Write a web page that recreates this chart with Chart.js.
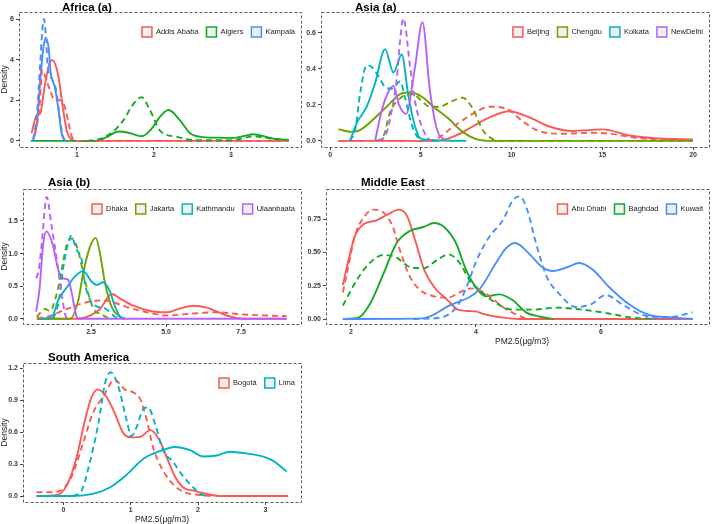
<!DOCTYPE html>
<html>
<head>
<meta charset="utf-8">
<script src="https://cdn.jsdelivr.net/npm/chart.js@4.4.1/dist/chart.umd.min.js"></script>
<style>
  html, body { margin: 0; padding: 0; background: #fff; }
  #wrap { position: relative; width: 712px; height: 524px; }
  #wrap canvas { position: absolute; left: 0; top: 0; }
</style>
</head>
<body>
<div id="wrap"></div>
<script>
// ---- Africa (a)
const africaCities = ['Addis Ababa', 'Algiers', 'Kampala'];
const africaXTicks = [1, 2, 3];
const africaYTicks = [0, 2, 4, 6];
const addisSolid = [[0.41,0.38],[0.48,1.28],[0.52,1.33],[0.58,2.67],[0.65,3.9],[0.68,3.97],[0.76,3.16],[0.82,1.54],[0.87,0.48],[0.93,0.07],[1.0,0],[3.75,0]];
const addisDashed = [[0.45,0.3],[0.51,1.5],[0.55,3.5],[0.6,3.0],[0.65,2.5],[0.71,2.0],[0.79,2.0],[0.84,1.69],[0.89,0.9],[0.93,0.25],[0.97,0],[3.75,0]];
const algiersSolid = [[0.4,0],[1.26,0],[1.39,0.2],[1.54,0.46],[1.69,0.38],[1.84,0.23],[1.97,0.6],[2.08,1.2],[2.19,1.52],[2.34,1.0],[2.47,0.38],[2.6,0.2],[2.81,0.16],[3.03,0.15],[3.18,0.25],[3.29,0.33],[3.46,0.2],[3.6,0.08],[3.75,0.05]];
const algiersDashed = [[1.13,0],[1.3,0.1],[1.47,0.46],[1.6,1.0],[1.73,1.8],[1.84,2.15],[1.95,1.5],[2.08,0.5],[2.16,0.3],[2.3,0.2],[2.42,0.08],[2.6,0.03],[3.0,0.03],[3.3,0.22],[3.5,0.12],[3.75,0.05]];
const kampalaSolid = [[0.43,0],[0.48,0.87],[0.52,2.84],[0.56,4.48],[0.59,5.05],[0.63,4.64],[0.66,3.33],[0.71,2.67],[0.76,1.54],[0.8,0.39],[0.84,0]];
const kampalaDashed = [[0.43,0.05],[0.48,1.3],[0.52,3.66],[0.55,5.46],[0.57,6.0],[0.6,4.97],[0.62,3.66],[0.67,3.08],[0.73,2.5],[0.78,1.03],[0.82,0.2],[0.86,0]];

// ---- Asia (a)
const asiaACities = ['Beijing', 'Chengdu', 'Kolkata', 'NewDelhi'];
const asiaAXTicks = [0, 5, 10, 15, 20];
const asiaAYTicks = [0, 0.2, 0.4, 0.6];
const beijingSolid = [[0.46,0],[5.84,0],[6.94,0.03],[7.86,0.08],[8.78,0.13],[9.88,0.165],[10.98,0.13],[12.08,0.08],[13.37,0.055],[15.02,0.064],[16.5,0.03],[17.9,0.015],[20,0.008]];
const beijingDashed = [[0.46,0],[5.47,0],[6.94,0.09],[7.86,0.15],[8.78,0.19],[9.7,0.18],[10.6,0.11],[11.5,0.055],[12.8,0.04],[14.3,0.045],[15.4,0.04],[17.0,0.015],[20,0.005]];
const chengduSolid = [[0.46,0.065],[1.19,0.05],[1.65,0.06],[2.39,0.12],[3.12,0.19],[3.86,0.26],[4.41,0.27],[5.14,0.24],[5.69,0.19],[6.57,0.12],[7.3,0.05],[8.04,0.01],[9,0],[20,0]];
const chengduDashed = [[2.5,0],[2.8,0.01],[3.0,0.04],[3.27,0.15],[3.9,0.24],[4.58,0.26],[4.96,0.23],[5.5,0.19],[6.02,0.19],[6.7,0.22],[7.3,0.24],[7.86,0.18],[8.41,0.06],[8.97,0.01],[9.5,0],[20,0]];
const kolkataSolid = [[1.1,0],[1.47,0.1],[2.02,0.19],[2.48,0.32],[3.03,0.51],[3.49,0.38],[3.95,0.48],[4.3,0.26],[4.68,0.08],[5.05,0.01],[7.5,0]];
const kolkataDashed = [[1.1,0],[1.4,0.07],[1.65,0.26],[2.02,0.42],[2.3,0.41],[2.66,0.36],[3.03,0.3],[3.4,0.29],[3.86,0.33],[4.13,0.24],[4.5,0.09],[4.96,0.01],[6,0]];
const newDelhiSolid = [[2.48,0],[2.85,0.17],[3.2,0.27],[3.49,0.305],[3.8,0.2],[4.19,0.15],[4.68,0.41],[5.09,0.66],[5.5,0.28],[5.9,0.06],[6.4,0]];
const newDelhiDashed = [[2.7,0],[3.1,0.04],[3.4,0.17],[3.67,0.34],[3.85,0.55],[4.04,0.68],[4.41,0.41],[4.68,0.22],[5.05,0.08],[5.5,0]];

// ---- Asia (b)
const asiaBCities = ['Dhaka', 'Jakarta', 'Kathmandu', 'Ulaanbaata'];
const asiaBXTicks = [2.5, 5.0, 7.5];
const asiaBYTicks = [0, 0.5, 1.0, 1.5];
const dhakaSolid = [[0.7,0],[2.02,0],[2.47,0.05],[2.8,0.15],[3.19,0.38],[3.47,0.31],[3.91,0.2],[4.47,0.12],[5.02,0.1],[5.47,0.16],[5.91,0.2],[6.36,0.17],[7.02,0.05],[7.58,0],[9.02,0]];
const dhakaDashed = [[0.7,0.01],[1.02,0.03],[1.69,0.15],[2.24,0.24],[2.8,0.28],[3.1,0.27],[3.69,0.18],[4.47,0.09],[5.02,0.05],[5.91,0.08],[6.69,0.1],[7.47,0.07],[8.36,0.05],[9.02,0.04]];
const jakartaSolid = [[0.7,0],[1.8,0],[2.08,0.29],[2.24,0.7],[2.47,1.11],[2.66,1.24],[2.8,1.0],[2.97,0.54],[3.19,0.18],[3.41,0.05],[3.63,0]];
const jakartaDashed = [[0.69,0.03],[0.97,0.15],[1.13,0.12],[1.36,0.39],[1.52,0.75],[1.69,1.13],[1.86,1.23],[2.08,1.03],[2.24,0.7],[2.47,0.29],[2.63,0.12],[2.8,0.08],[3.0,0.03],[3.2,0]];
const kathmanduSolid = [[0.69,0],[1.19,0.02],[1.41,0.29],[1.69,0.48],[1.97,0.65],[2.24,0.73],[2.52,0.57],[2.69,0.52],[2.91,0.56],[3.13,0.42],[3.3,0.19],[3.47,0.03],[3.63,0]];
const kathmanduDashed = [[1.24,0],[1.41,0.23],[1.58,0.8],[1.75,1.18],[1.83,1.27],[2.02,1.06],[2.19,0.9],[2.3,0.54],[2.47,0.29],[2.69,0.19],[2.97,0.16],[3.13,0.1],[3.3,0.03],[3.45,0]];
const ulaanSolid = [[0.67,0.11],[0.78,0.44],[0.91,1.16],[1.02,1.34],[1.24,1.11],[1.41,0.75],[1.58,0.62],[1.74,0.6],[1.86,0.39],[2.0,0.06],[2.08,0],[9.02,0]];
const ulaanDashed = [[0.67,0.62],[0.76,0.75],[0.86,1.16],[1.02,1.87],[1.19,1.41],[1.36,0.9],[1.52,0.39],[1.63,0.08],[1.7,0]];

// ---- Middle East
const meCities = ['Abu Dhabi', 'Baghdad', 'Kuwait'];
const meXTicks = [2, 4, 6];
const meYTicks = [0, 0.25, 0.5, 0.75];
const abuSolid = [[1.87,0.255],[1.96,0.44],[2.06,0.62],[2.2,0.71],[2.41,0.74],[2.57,0.78],[2.77,0.82],[2.9,0.77],[3.04,0.57],[3.17,0.37],[3.33,0.24],[3.55,0.14],[3.71,0.07],[3.87,0.06],[4.01,0.055],[4.1,0.04],[4.43,0.01],[4.7,0],[7.47,0]];
const abuDashed = [[1.87,0.2],[1.96,0.4],[2.06,0.62],[2.2,0.76],[2.36,0.82],[2.54,0.79],[2.67,0.69],[2.78,0.52],[2.94,0.32],[3.1,0.22],[3.33,0.17],[3.55,0.16],[3.74,0.2],[3.92,0.23],[4.16,0.19],[4.43,0.09],[4.64,0.035],[4.85,0],[5.2,0]];
const baghdadSolid = [[1.87,0],[2.12,0.01],[2.3,0.11],[2.52,0.34],[2.73,0.57],[2.94,0.66],[3.16,0.69],[3.33,0.72],[3.49,0.69],[3.68,0.57],[3.84,0.37],[4.01,0.23],[4.16,0.17],[4.37,0.185],[4.59,0.14],[4.8,0.05],[5.0,0.02],[5.24,0]];
const baghdadDashed = [[1.87,0.1],[2.09,0.29],[2.3,0.42],[2.52,0.48],[2.73,0.46],[2.94,0.39],[3.16,0.38],[3.37,0.44],[3.56,0.485],[3.74,0.42],[3.9,0.29],[4.1,0.2],[4.32,0.12],[4.59,0.07],[4.91,0.07],[5.28,0.085],[5.7,0.07],[6.08,0.045],[6.5,0.01],[6.88,0]];
const kuwaitSolid = [[1.87,0],[3.15,0.005],[3.57,0.1],[4.05,0.22],[4.32,0.42],[4.48,0.53],[4.63,0.57],[4.85,0.49],[5.06,0.39],[5.23,0.36],[5.47,0.39],[5.65,0.42],[5.87,0.37],[6.13,0.24],[6.45,0.11],[6.77,0.03],[7.04,0.015],[7.47,0]];
const kuwaitDashed = [[3.0,0],[3.42,0.01],[3.69,0.09],[3.85,0.24],[4.01,0.44],[4.22,0.62],[4.43,0.74],[4.59,0.89],[4.7,0.92],[4.82,0.82],[4.96,0.57],[5.13,0.32],[5.33,0.19],[5.6,0.09],[5.84,0.11],[6.08,0.18],[6.34,0.11],[6.61,0.04],[6.93,0.005],[7.2,0.02],[7.47,0.05]];

// ---- South America
const saCities = ['Bogotá', 'Lima'];
const saXTicks = [0, 1, 2, 3];
const saYTicks = [0, 0.3, 0.6, 0.9, 1.2];
const bogotaSolid = [[-0.4,0],[-0.1,0.01],[0.05,0.1],[0.2,0.37],[0.32,0.71],[0.42,0.93],[0.51,1.0],[0.64,0.93],[0.76,0.78],[0.89,0.59],[1.01,0.55],[1.16,0.56],[1.29,0.62],[1.43,0.52],[1.53,0.37],[1.66,0.18],[1.78,0.08],[1.93,0.05],[2.13,0.02],[2.33,0],[3.34,0]];
const bogotaDashed = [[-0.4,0.035],[-0.15,0.035],[0.0,0.07],[0.12,0.18],[0.29,0.49],[0.44,0.78],[0.59,0.93],[0.76,1.09],[0.91,1.0],[1.04,0.97],[1.14,0.91],[1.24,0.71],[1.33,0.46],[1.48,0.24],[1.63,0.11],[1.78,0.04],[2.03,0.01],[2.23,0]];
const limaSolid = [[-0.4,0],[0.14,0],[0.44,0.02],[0.69,0.08],[0.94,0.2],[1.19,0.35],[1.43,0.42],[1.66,0.46],[1.88,0.43],[2.08,0.37],[2.28,0.38],[2.47,0.415],[2.72,0.4],[2.97,0.37],[3.12,0.33],[3.24,0.27],[3.32,0.23]];
const limaDashed = [[0.14,0],[0.27,0.05],[0.39,0.31],[0.52,0.68],[0.62,1.06],[0.7,1.16],[0.81,1.04],[0.94,0.71],[1.01,0.56],[1.09,0.65],[1.19,0.82],[1.26,0.83],[1.36,0.68],[1.48,0.43],[1.63,0.32],[1.76,0.2],[1.93,0.08],[2.03,0.02],[2.13,0]];

const RED = '#FA5A55', GREEN3 = '#14AA28', BLUE = '#4A8DFF';
const OLIVE = '#6EA300', CYAN = '#00B5BD', PURPLE = '#B760FF';

const FONT = "'Liberation Sans', Arial, sans-serif";
Chart.defaults.font.family = FONT;

const XH = 11;

const decor = {
  id: 'decor',
  afterDraw(chart, args, o) {
    const { ctx, chartArea: a } = chart;
    ctx.save();
    ctx.strokeStyle = '#5a5a5a';
    ctx.lineWidth = 1;
    ctx.setLineDash([3, 2]);
    ctx.strokeRect(a.left + 0.5, a.top + 0.5, a.right - a.left, a.bottom - a.top);
    ctx.setLineDash([]);

    // legend, right aligned inside the panel
    ctx.font = '7.5px ' + FONT;
    ctx.textBaseline = 'middle';
    ctx.textAlign = 'left';
    let x = a.right - 6;
    const cy = a.top + 20;
    for (let i = o.cities.length - 1; i >= 0; i--) {
      const w = ctx.measureText(o.cities[i]).width;
      x -= w;
      ctx.fillStyle = '#222';
      ctx.fillText(o.cities[i], x, cy);
      x -= 4 + 10;
      ctx.fillStyle = '#f0f0f0';
      ctx.fillRect(x, cy - 5, 10, 10);
      ctx.strokeStyle = o.colors[i];
      ctx.lineWidth = 1.5;
      ctx.strokeRect(x, cy - 5, 10, 10);
      x -= 8;
    }

    ctx.fillStyle = '#000';
    ctx.font = 'bold 11.5px ' + FONT;
    ctx.fillText(o.title, o.titleX, o.titleY);

    ctx.fillStyle = '#222';
    ctx.font = '8.5px ' + FONT;
    if (o.yTitle) {
      ctx.save();
      ctx.translate(5, (a.top + a.bottom) / 2);
      ctx.rotate(-Math.PI / 2);
      ctx.textAlign = 'center';
      ctx.fillText('Density', 0, 0);
      ctx.restore();
    }
    if (o.xTitle) {
      ctx.textAlign = 'center';
      ctx.fillText('PM2.5(μg/m3)', o.xTitleX || (a.left + a.right) / 2, a.bottom + 18);
    }
    ctx.restore();
  }
};

function axis(min, max, ticks, dec, isX, size) {
  return {
    type: 'linear', min: min, max: max,
    afterBuildTicks: s => { s.ticks = ticks.map(v => ({ value: v })); },
    afterFit: s => { if (isX) s.height = size; else s.width = size; },
    ticks: {
      callback: v => Number(v).toFixed(dec),
      font: { size: 7, weight: 'bold' }, color: '#3a3a3a',
      padding: isX ? 1 : 2, maxRotation: 0, autoSkip: false
    },
    grid: { drawOnChartArea: false, tickLength: 3, color: '#444', lineWidth: 1 },
    border: { display: false }
  };
}

function makePanel(p) {
  const c = document.createElement('canvas');
  c.width = 712; c.height = 524;
  document.getElementById('wrap').appendChild(c);
  const yw = Math.min(p.area[0], 30);
  const datasets = [];
  p.solid.forEach((pts, i) => datasets.push({ label: p.cities[i], pts: pts, color: p.colors[i], dash: [] }));
  p.dashed.forEach((pts, i) => datasets.push({ label: p.cities[i] + ' ', pts: pts, color: p.colors[i], dash: [6, 4] }));
  new Chart(c, {
    type: 'line',
    data: {
      datasets: datasets.map((d, i) => ({
        label: d.label,
        data: d.pts.map(q => ({ x: q[0], y: q[1] })),
        borderColor: d.color,
        borderWidth: 1.9,
        borderDash: d.dash,
        pointRadius: 0,
        fill: false,
        cubicInterpolationMode: 'monotone',
        order: datasets.length - i
      }))
    },
    options: {
      responsive: false,
      animation: false,
      layout: { padding: { left: p.area[0] - yw, top: p.area[1], right: 712 - p.area[2], bottom: 524 - p.area[3] - XH } },
      scales: {
        x: axis(p.x[0], p.x[1], p.xTicks, p.xDec, true, XH),
        y: axis(p.y[0], p.y[1], p.yTicks, p.yDec, false, yw)
      },
      plugins: {
        legend: { display: false },
        tooltip: { enabled: false },
        decor: { cities: p.cities, colors: p.colors, title: p.title, titleX: p.titleX, titleY: p.titleY,
                 yTitle: p.yTitle, xTitle: p.xTitle, xTitleX: p.xTitleX }
      }
    },
    plugins: [decor]
  });
}

makePanel({
  title: 'Africa (a)', titleX: 62, titleY: 7.5, yTitle: true, xTitle: false,
  area: [19, 12, 301, 147], x: [0.247, 3.91], y: [-0.3, 6.345],
  xTicks: africaXTicks, yTicks: africaYTicks, xDec: 0, yDec: 0,
  cities: africaCities, colors: [RED, GREEN3, BLUE],
  solid: [addisSolid, algiersSolid, kampalaSolid],
  dashed: [addisDashed, algiersDashed, kampalaDashed]
});
makePanel({
  title: 'Asia (a)', titleX: 355, titleY: 7.5, yTitle: false, xTitle: false,
  area: [321, 12, 709, 147], x: [-0.5, 20.88], y: [-0.034, 0.716],
  xTicks: asiaAXTicks, yTicks: asiaAYTicks, xDec: 0, yDec: 1,
  cities: asiaACities, colors: [RED, OLIVE, CYAN, PURPLE],
  solid: [beijingSolid, chengduSolid, kolkataSolid, newDelhiSolid],
  dashed: [beijingDashed, chengduDashed, kolkataDashed, newDelhiDashed]
});
makePanel({
  title: 'Asia (b)', titleX: 48, titleY: 182.5, yTitle: true, xTitle: false,
  area: [23, 189, 301, 324], x: [0.233, 9.5], y: [-0.08, 1.99],
  xTicks: asiaBXTicks, yTicks: asiaBYTicks, xDec: 1, yDec: 1,
  cities: asiaBCities, colors: [RED, OLIVE, CYAN, PURPLE],
  solid: [dhakaSolid, jakartaSolid, kathmanduSolid, ulaanSolid],
  dashed: [dhakaDashed, jakartaDashed, kathmanduDashed, ulaanDashed]
});
makePanel({
  title: 'Middle East', titleX: 361, titleY: 182.5, yTitle: false, xTitle: true, xTitleX: 522,
  area: [326, 189, 709, 324], x: [1.6, 7.73], y: [-0.0375, 0.975],
  xTicks: meXTicks, yTicks: meYTicks, xDec: 0, yDec: 2,
  cities: meCities, colors: [RED, GREEN3, BLUE],
  solid: [abuSolid, baghdadSolid, kuwaitSolid],
  dashed: [abuDashed, baghdadDashed, kuwaitDashed]
});
makePanel({
  title: 'South America', titleX: 48, titleY: 358, yTitle: true, xTitle: true,
  area: [23, 363, 301, 502], x: [-0.6, 3.53], y: [-0.056, 1.247],
  xTicks: saXTicks, yTicks: saYTicks, xDec: 0, yDec: 1,
  cities: saCities, colors: [RED, CYAN],
  solid: [bogotaSolid, limaSolid],
  dashed: [bogotaDashed, limaDashed]
});
</script>
</body>
</html>
